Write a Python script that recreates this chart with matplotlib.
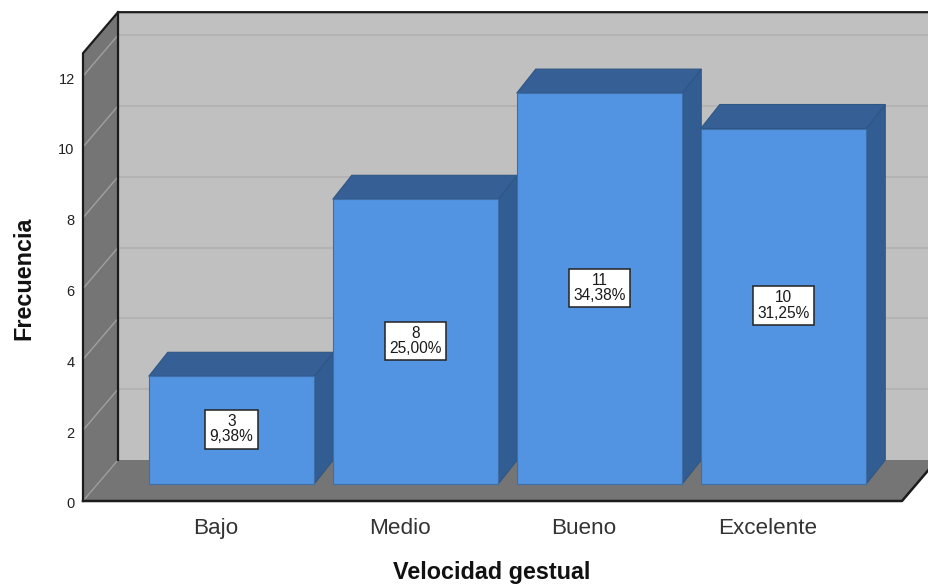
import matplotlib
matplotlib.use("Agg")
import matplotlib.pyplot as plt
from matplotlib.patches import Polygon, Rectangle
from matplotlib.transforms import ScaledTranslation

categories = ["Bajo", "Medio", "Bueno", "Excelente"]
counts = [3, 8, 11, 10]
percent_labels = ["9,38%", "25,00%", "34,38%", "31,25%"]
y_ticks = [0, 2, 4, 6, 8, 10, 12]

W, H = 929, 587
PX_Y = 35.4      # pixels per unit of frequency
PX_X = 184.0     # pixels per category
LEFT, BASE = 83, 501
FIRST = 216      # pixel of first category

plt.rcParams["font.family"] = ["Liberation Sans", "DejaVu Sans"]
fig = plt.figure(figsize=(W / 100, H / 100), dpi=100, facecolor="white")
ax = fig.add_axes([LEFT / W, (H - BASE) / H, (W - LEFT) / W, BASE / H])
ax.set_xlim((LEFT - FIRST) / PX_X, (W - FIRST) / PX_X)
ax.set_ylim(0, BASE / PX_Y)
ax.patch.set_visible(False)
for s in ax.spines.values():
    s.set_visible(False)

def dx(p): return p / PX_X
def dy(p): return p / PX_Y

x0 = ax.get_xlim()[0]
x1 = (902 - FIRST) / PX_X
ymax = 12.65
DX, DY = dx(35), dy(41)
x_far = x1 + DX

WALL = "#C0C0C0"; SIDE = "#757575"; EDGE = "#1c1c1c"
FRONT = "#5294E2"; TOP = "#355F95"; RIGHT = "#325D93"

# back wall, side wall, floor
ax.add_patch(Polygon([(x0+DX, DY), (x_far, DY), (x_far, ymax+DY), (x0+DX, ymax+DY)],
                     fc=WALL, ec="none", zorder=1))
ax.add_patch(Polygon([(x0, 0), (x0+DX, DY), (x0+DX, ymax+DY), (x0, ymax)],
                     fc=SIDE, ec="none", zorder=1))
ax.add_patch(Polygon([(x0, 0), (x1, 0), (x_far, DY), (x0+DX, DY)],
                     fc=SIDE, ec="none", zorder=1))

# gridlines
for v in y_ticks[1:]:
    ax.plot([x0+DX, x_far], [v+DY, v+DY], color="#B2B2B2", lw=1.3, zorder=1.5)
    ax.plot([x0, x0+DX], [v, v+DY], color="#A0A0A0", lw=1.0, zorder=1.5)
ax.plot([x0, x0+DX], [0, DY], color="#A0A0A0", lw=0.9, zorder=1.5)

# frame
ax.plot([x0+DX, x0+DX], [DY, ymax+DY], color=EDGE, lw=1.6, zorder=2)
ax.plot([x0, x0, x0+DX, x_far], [0, ymax, ymax+DY, ymax+DY], color=EDGE, lw=1.6, zorder=2,
        solid_joinstyle="miter", clip_on=False)
ax.plot([x0, x1, x_far], [0, 0, DY], color=EDGE, lw=1.8, zorder=2, clip_on=False)

# bars
BW = 165.5 / PX_X
OX, OY = dx(15.5), dy(18.5)
BX, BY = dx(19), dy(24)
for i, (c, p) in enumerate(zip(counts, percent_labels)):
    l = i + OX - BW / 2
    r = l + BW
    b = OY - dy(1.5)
    t = OY + c
    ax.add_patch(Polygon([(r, b), (r+BX, b+BY), (r+BX, t+BY), (r, t)],
                         fc=RIGHT, ec="#2f5684", lw=0.8, zorder=3+i))
    ax.add_patch(Polygon([(l, t), (r, t), (r+BX, t+BY), (l+BX, t+BY)],
                         fc=TOP, ec="#2f5684", lw=0.8, zorder=3+i))
    ax.add_patch(Rectangle((l, b), BW, t-b, fc=FRONT, ec="#3f6ea6", lw=0.8, zorder=3+i))
    ax.text(i + OX, OY + c / 2, f"{c}\n{p}", ha="center", va="center", ma="center",
            fontsize=11.2, linespacing=1.0, color="#1a1a1a", zorder=10,
            bbox=dict(boxstyle="square,pad=0.27", fc="white", ec="#222222", lw=1.1))

ax.set_xticks(range(len(categories)), categories)
ax.set_yticks(y_ticks)
ax.tick_params(axis="x", length=0, pad=12, labelsize=16.2, labelcolor="#333333")
ax.tick_params(axis="y", length=0, pad=6, labelsize=10.5, labelcolor="#222222")
shift = ScaledTranslation(0, -2 / 100, fig.dpi_scale_trans)
for t in ax.get_yticklabels():
    t.set_transform(t.get_transform() + shift)

fig.text(492 / W, 1 - 572 / H, "Velocidad gestual", ha="center", va="center",
         fontsize=16.8, fontweight="bold", color="#111111")
fig.text(24 / W, 1 - 278 / H, "Frecuencia", ha="center", va="center", rotation=90,
         fontsize=16.8, fontweight="bold", color="#111111")

fig.savefig("out.png", dpi=100, facecolor="white")
